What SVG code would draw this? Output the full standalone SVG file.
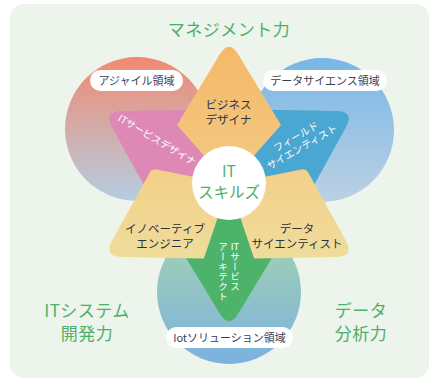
<svg xmlns="http://www.w3.org/2000/svg" width="430" height="383" viewBox="0 0 430 383">
<style>
.jp{font-family:"Noto Sans CJK JP","Noto Sans",sans-serif}
.big{font-size:17px;fill:#4caf6b;font-weight:400;letter-spacing:0.5px}
.pill rect{fill:#ffffff}
.pill text{font-size:11px;fill:#3a3d55;text-anchor:middle}
.lbl{font-size:11.5px;fill:#2b2f45;text-anchor:middle;font-weight:400}
.wlbl{font-size:10px;fill:#ffffff;text-anchor:middle}
</style>
<defs>
<linearGradient id="gL" x1="0" y1="0" x2="0" y2="1"><stop offset="0" stop-color="#f08a71"/><stop offset="1" stop-color="#b4cde2"/></linearGradient>
<linearGradient id="gR" x1="0" y1="0" x2="0" y2="1"><stop offset="0" stop-color="#78b7e6"/><stop offset="1" stop-color="#bcd1e4"/></linearGradient>
<linearGradient id="gB" x1="0" y1="0" x2="0" y2="1"><stop offset="0" stop-color="#a7d4ac"/><stop offset="1" stop-color="#7bb2e0"/></linearGradient>
<linearGradient id="gO" x1="0" y1="0" x2="0" y2="1"><stop offset="0" stop-color="#f5b869"/><stop offset="1" stop-color="#f3cb84"/></linearGradient>
<linearGradient id="gY" gradientUnits="userSpaceOnUse" x1="0" y1="165" x2="0" y2="260"><stop offset="0" stop-color="#f4cf88"/><stop offset="1" stop-color="#efdd9b"/></linearGradient>
</defs>
<rect x="10" y="4" width="419" height="374" rx="14" fill="#edf4ec"/>
<g id="circles">
<circle cx="137" cy="129" r="72" fill="url(#gL)"/>
<circle cx="322" cy="130" r="72" fill="url(#gR)"/>
<circle cx="229" cy="292" r="72" fill="url(#gB)"/>
</g>
<g id="pills">
<g class="pill jp" id="pill-agile"><rect x="90" y="70" width="93" height="21" rx="10.5"/><text x="136.5" y="84.5">アジャイル領域</text></g>
<g class="pill jp" id="pill-data"><rect x="263" y="70" width="124" height="21" rx="10.5"/><text x="325" y="84.5">データサイエンス領域</text></g>
<g class="pill jp" id="pill-iot"><rect x="166" y="327" width="127" height="21" rx="10.5"/><text x="229.5" y="341.5">Iotソリューション領域</text></g>
</g>
<g id="node-pink"><path d="M112.1,127.3 Q103.4,111.5 121.4,111.1 L203.9,109.5 L229,184 L151.9,199.5 Z" fill="#de88b5"/>
<text class="wlbl jp" transform="translate(155,143) rotate(31)" x="0" y="0">ITサービスデザイナ</text></g>
<g id="node-blue"><path d="M336.6,111.1 Q354.6,111.5 345.9,127.3 L306.1,199.5 L229,184 L254.1,109.5 Z" fill="#4aa7d1"/>
<g transform="translate(299,142) rotate(-30)"><text class="wlbl jp" x="0" y="-2.5">フィールド</text><text class="wlbl jp" x="0" y="9.5">サイエンティスト</text></g></g>
<g id="node-green"><path d="M238.3,313.6 Q229,329 219.7,313.6 L177,243 L229,184 L281,243 Z" fill="#4db36a"/></g>
<g id="node-orange"><path d="M219.7,54.4 Q229,39 238.3,54.4 L281,125 L229,184 L177,125 Z" fill="url(#gO)"/>
<text class="lbl jp" x="228.5" y="109">ビジネス</text><text class="lbl jp" x="228.5" y="123.5">デザイナ</text></g>
<g id="node-yellow-left"><path d="M121.4,256.9 Q103.4,256.5 112.1,240.7 L149.5,172.9 Q151.9,168.5 156.8,169.5 L229,184 L203.9,258.5 Z" fill="url(#gY)"/>
<text class="lbl jp" x="165" y="233">イノベーティブ</text><text class="lbl jp" x="165" y="247.5">エンジニア</text></g>
<g id="node-yellow-right"><path d="M336.6,256.9 Q354.6,256.5 345.9,240.7 L308.5,172.9 Q306.1,168.5 301.2,169.5 L229,184 L254.1,258.5 Z" fill="url(#gY)"/>
<text class="lbl jp" x="297" y="233">データ</text><text class="lbl jp" x="297" y="247.5">サイエンティスト</text></g>
<g id="node-green-label">
<text class="jp" x="235" y="250" font-size="9.5" fill="#ffffff" text-anchor="middle">IT</text>
<text class="jp" x="235" y="252" font-size="9.5" fill="#ffffff" letter-spacing="0.5" style="writing-mode:vertical-rl">サービス</text>
<text class="jp" x="223" y="242" font-size="9.5" fill="#ffffff" letter-spacing="0.5" style="writing-mode:vertical-rl">アーキテクト</text>
</g>
<g id="node-center"><circle cx="229" cy="183" r="37" fill="#ffffff"/>
<text class="jp" x="229" y="176.5" font-size="15.5" fill="#4caf6b" text-anchor="middle">IT</text>
<text class="jp" x="229" y="198" font-size="15.5" fill="#4caf6b" text-anchor="middle">スキルズ</text></g>
<g id="titles">
<text class="jp big" x="229" y="35.5" text-anchor="middle">マネジメント力</text>
<text class="jp big" x="87" y="317" text-anchor="middle">ITシステム</text>
<text class="jp big" x="87" y="340" text-anchor="middle">開発力</text>
<text class="jp big" x="361" y="317" text-anchor="middle">データ</text>
<text class="jp big" x="361" y="340" text-anchor="middle">分析力</text>
</g>
</svg>
